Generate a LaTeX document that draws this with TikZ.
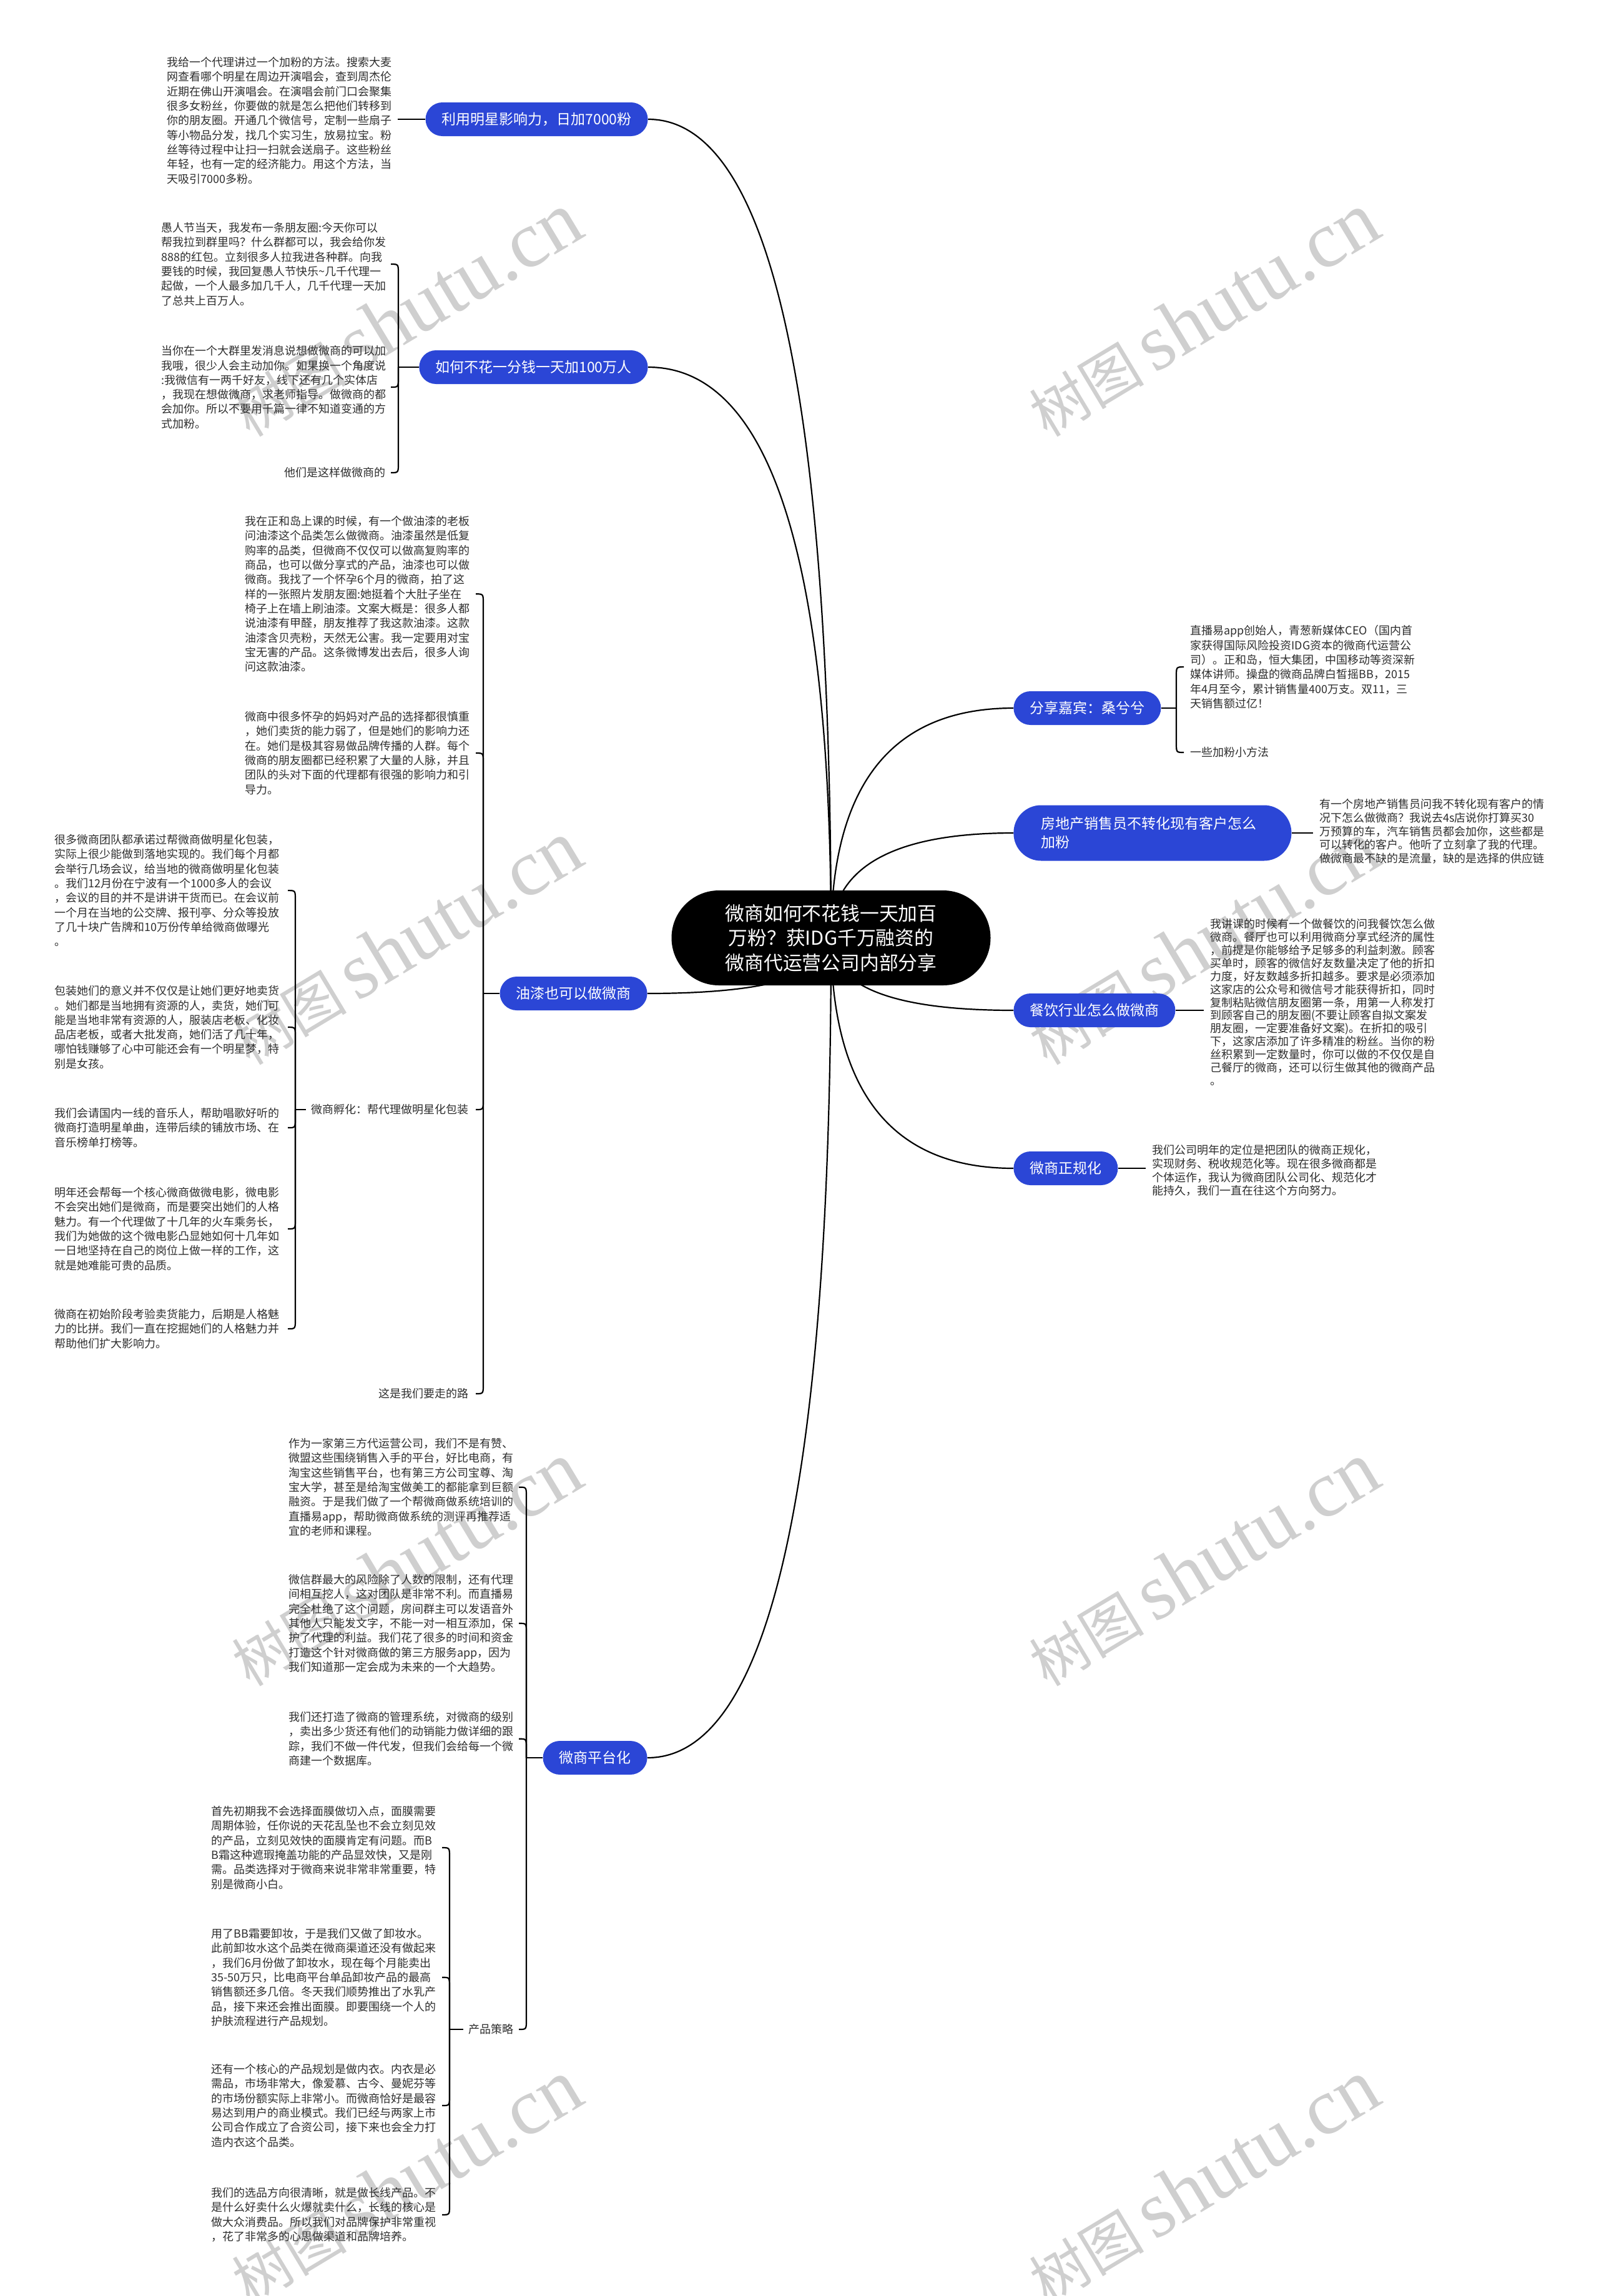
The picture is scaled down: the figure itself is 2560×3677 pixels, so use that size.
\documentclass[tikz,border=0pt]{standalone}
\usepackage{fontspec}
\setmainfont{Noto Sans CJK SC}
\newfontfamily\cjk{Noto Sans CJK SC}
\newfontfamily\wmserif{Liberation Serif}
\usetikzlibrary{calc,backgrounds}
\definecolor{bblue}{HTML}{2B46D6}
\definecolor{txtc}{HTML}{2E2E2E}
\definecolor{wmgray}{HTML}{CFCFCF}
\tikzset{
  conn/.style={draw=black, line width=1.1pt},
  root/.style={fill=black, text=white, font=\cjk\fontsize{15.4}{19.7}\selectfont, align=center, minimum width=255.5pt, minimum height=76pt, rounded corners=38pt, inner sep=0pt},
  bnode/.style={fill=bblue, text=white, font=\cjk\fontsize{11.5}{15}\selectfont, rounded corners=13.5pt, minimum height=27pt, inner xsep=13pt, inner ysep=3pt},
  tb/.style={font=\cjk\fontsize{9}{11.65}\selectfont, text=txtc, align=left, inner sep=0pt, anchor=north west},
  tbs/.style={tb, font=\cjk\fontsize{9}{10.85}\selectfont},
  tbi/.style={tb, font=\cjk\fontsize{9}{10.45}\selectfont},
  wm/.style={text=wmgray, rotate=31, inner sep=0pt},
}
\newcommand\mmconn[1]{%
  \path (#1) coordinate (mmA) (root.center |- #1) coordinate (mmC);
  \draw[conn] (root.center) .. controls ($(root.center)!2/3!(mmC)$) and ($(mmA)!2/3!(mmC)$) .. (mmA);}
\newcommand\lchild[3]{%
  \draw[conn] (#1) -- ($(#1 |- #2.east)+(0,#3)$) .. controls (#1 |- #2.east) .. ($(#1 |- #2.east)+(-12,0)$);}
\newcommand\rchild[3]{%
  \draw[conn] (#1) -- ($(#1 |- #2.west)+(0,#3)$) .. controls (#1 |- #2.west) .. ($(#1 |- #2.west)+(12,0)$);}
\begin{document}
\begin{tikzpicture}[x=0.5pt, y=-0.5pt]
\useasboundingbox (0,0) rectangle (2560,3677);

% root
\node[root] (root) at (1331,1502) {微商如何不花钱一天加百\\万粉？获IDG千万融资的\\微商代运营公司内部分享};

% main branches
\node[bnode, anchor=east] (n1) at (1038,191) {利用明星影响力，日加7000粉};
\node[bnode, anchor=east] (n2) at (1038,588) {如何不花一分钱一天加100万人};
\node[bnode, anchor=east] (n3) at (1037,1591) {油漆也可以做微商};
\node[bnode, anchor=east] (n4) at (1037,2815) {微商平台化};
\node[bnode, anchor=west] (n5) at (1623,1134) {分享嘉宾：桑兮兮};
\node[bnode, anchor=west, align=left, text width=178.5pt, inner xsep=22pt, rounded corners=22pt, minimum height=44.5pt] (n6) at (1623,1334) {房地产销售员不转化现有客户怎么\\加粉};
\node[bnode, anchor=west] (n7) at (1623,1618) {餐饮行业怎么做微商};
\node[bnode, anchor=west] (n8) at (1623,1871) {微商正规化};

% branch 1
\node[tb] (A) at (267,91) {我给一个代理讲过一个加粉的方法。搜索大麦\\网查看哪个明星在周边开演唱会，查到周杰伦\\近期在佛山开演唱会。在演唱会前门口会聚集\\很多女粉丝，你要做的就是怎么把他们转移到\\你的朋友圈。开通几个微信号，定制一些扇子\\等小物品分发，找几个实习生，放易拉宝。粉\\丝等待过程中让扫一扫就会送扇子。这些粉丝\\年轻，也有一定的经济能力。用这个方法，当\\天吸引7000多粉。};

% branch 2
\node[tb] (B1) at (258,356) {愚人节当天，我发布一条朋友圈:今天你可以\\帮我拉到群里吗？什么群都可以，我会给你发\\888的红包。立刻很多人拉我进各种群。向我\\要钱的时候，我回复愚人节快乐\textasciitilde 几千代理一\\起做，一个人最多加几千人，几千代理一天加\\了总共上百万人。};
\node[tb] (B2) at (258,553) {当你在一个大群里发消息说想做微商的可以加\\我哦，很少人会主动加你。如果换一个角度说\\:我微信有一两千好友，线下还有几个实体店\\，我现在想做微商，求老师指导。做微商的都\\会加你。所以不要用千篇一律不知道变通的方\\式加粉。};
\node[tb, anchor=east] (B3) at (618,757) {他们是这样做微商的};

% branch 3
\node[tb] (C1) at (392,826) {我在正和岛上课的时候，有一个做油漆的老板\\问油漆这个品类怎么做微商。油漆虽然是低复\\购率的品类，但微商不仅仅可以做高复购率的\\商品，也可以做分享式的产品，油漆也可以做\\微商。我找了一个怀孕6个月的微商，拍了这\\样的一张照片发朋友圈:她挺着个大肚子坐在\\椅子上在墙上刷油漆。文案大概是：很多人都\\说油漆有甲醛，朋友推荐了我这款油漆。这款\\油漆含贝壳粉，天然无公害。我一定要用对宝\\宝无害的产品。这条微博发出去后，很多人询\\问这款油漆。};
\node[tb] (C2) at (392,1139) {微商中很多怀孕的妈妈对产品的选择都很慎重\\，她们卖货的能力弱了，但是她们的影响力还\\在。她们是极其容易做品牌传播的人群。每个\\微商的朋友圈都已经积累了大量的人脉，并且\\团队的头对下面的代理都有很强的影响力和引\\导力。};
\node[tb, anchor=east] (C3) at (751,1777) {微商孵化：帮代理做明星化包装};
\node[tb, anchor=east] (C4) at (751,2232) {这是我们要走的路};
\node[tb] (D1) at (87,1336) {很多微商团队都承诺过帮微商做明星化包装，\\实际上很少能做到落地实现的。我们每个月都\\会举行几场会议，给当地的微商做明星化包装\\。我们12月份在宁波有一个1000多人的会议\\，会议的目的并不是讲讲干货而已。在会议前\\一个月在当地的公交牌、报刊亭、分众等投放\\了几十块广告牌和10万份传单给微商做曝光\\。};
\node[tb] (D2) at (87,1578) {包装她们的意义并不仅仅是让她们更好地卖货\\。她们都是当地拥有资源的人，卖货，她们可\\能是当地非常有资源的人，服装店老板、化妆\\品店老板，或者大批发商，她们活了几十年，\\哪怕钱赚够了心中可能还会有一个明星梦，特\\别是女孩。};
\node[tb] (D3) at (87,1774) {我们会请国内一线的音乐人，帮助唱歌好听的\\微商打造明星单曲，连带后续的铺放市场、在\\音乐榜单打榜等。};
\node[tb] (D4) at (87,1901) {明年还会帮每一个核心微商做微电影，微电影\\不会突出她们是微商，而是要突出她们的人格\\魅力。有一个代理做了十几年的火车乘务长，\\我们为她做的这个微电影凸显她如何十几年如\\一日地坚持在自己的岗位上做一样的工作，这\\就是她难能可贵的品质。};
\node[tb] (D5) at (87,2096) {微商在初始阶段考验卖货能力，后期是人格魅\\力的比拼。我们一直在挖掘她们的人格魅力并\\帮助他们扩大影响力。};

% branch 4
\node[tb] (E1) at (462,2303) {作为一家第三方代运营公司，我们不是有赞、\\微盟这些围绕销售入手的平台，好比电商，有\\淘宝这些销售平台，也有第三方公司宝尊、淘\\宝大学，甚至是给淘宝做美工的都能拿到巨额\\融资。于是我们做了一个帮微商做系统培训的\\直播易app，帮助微商做系统的测评再推荐适\\宜的老师和课程。};
\node[tb] (E2) at (462,2521) {微信群最大的风险除了人数的限制，还有代理\\间相互挖人，这对团队是非常不利。而直播易\\完全杜绝了这个问题，房间群主可以发语音外\\其他人只能发文字，不能一对一相互添加，保\\护了代理的利益。我们花了很多的时间和资金\\打造这个针对微商做的第三方服务app，因为\\我们知道那一定会成为未来的一个大趋势。};
\node[tb] (E3) at (462,2741) {我们还打造了微商的管理系统，对微商的级别\\，卖出多少货还有他们的动销能力做详细的跟\\踪，我们不做一件代发，但我们会给每一个微\\商建一个数据库。};
\node[tb, anchor=east] (E4) at (823,3250) {产品策略};
\node[tb] (F1) at (338,2892) {首先初期我不会选择面膜做切入点，面膜需要\\周期体验，任你说的天花乱坠也不会立刻见效\\的产品，立刻见效快的面膜肯定有问题。而B\\B霜这种遮瑕掩盖功能的产品显效快，又是刚\\需。品类选择对于微商来说非常非常重要，特\\别是微商小白。};
\node[tb] (F2) at (338,3088) {用了BB霜要卸妆，于是我们又做了卸妆水。\\此前卸妆水这个品类在微商渠道还没有做起来\\，我们6月份做了卸妆水，现在每个月能卖出\\35-50万只，比电商平台单品卸妆产品的最高\\销售额还多几倍。冬天我们顺势推出了水乳产\\品，接下来还会推出面膜。即要围绕一个人的\\护肤流程进行产品规划。};
\node[tb] (F3) at (338,3305) {还有一个核心的产品规划是做内衣。内衣是必\\需品，市场非常大，像爱慕、古今、曼妮芬等\\的市场份额实际上非常小。而微商恰好是最容\\易达到用户的商业模式。我们已经与两家上市\\公司合作成立了合资公司，接下来也会全力打\\造内衣这个品类。};
\node[tb] (F4) at (338,3503) {我们的选品方向很清晰，就是做长线产品。不\\是什么好卖什么火爆就卖什么，长线的核心是\\做大众消费品。所以我们对品牌保护非常重视\\，花了非常多的心思做渠道和品牌培养。};

% branch 5
\node[tb] (G1) at (1906,1001) {直播易app创始人，青葱新媒体CEO（国内首\\家获得国际风险投资IDG资本的微商代运营公\\司）。正和岛，恒大集团，中国移动等资深新\\媒体讲师。操盘的微商品牌白皙摇BB，2015\\年4月至今，累计销售量400万支。双11，三\\天销售额过亿！};
\node[tb, anchor=west] (G2) at (1906,1205) {一些加粉小方法};

% branch 6
\node[tbs] (H) at (2113,1279) {有一个房地产销售员问我不转化现有客户的情\\况下怎么做微商？我说去4s店说你打算买30\\万预算的车，汽车销售员都会加你，这些都是\\可以转化的客户。他听了立刻拿了我的代理。\\做微商最不缺的是流量，缺的是选择的供应链};

% branch 7
\node[tbi] (I) at (1938,1471) {我讲课的时候有一个做餐饮的问我餐饮怎么做\\微商。餐厅也可以利用微商分享式经济的属性\\，前提是你能够给予足够多的利益刺激。顾客\\买单时，顾客的微信好友数量决定了他的折扣\\力度，好友数越多折扣越多。要求是必须添加\\这家店的公众号和微信号才能获得折扣，同时\\复制粘贴微信朋友圈第一条，用第一人称发打\\到顾客自己的朋友圈(不要让顾客自拟文案发\\朋友圈，一定要准备好文案)。在折扣的吸引\\下，这家店添加了许多精准的粉丝。当你的粉\\丝积累到一定数量时，你可以做的不仅仅是自\\己餐厅的微商，还可以衍生做其他的微商产品\\。};

% branch 8
\node[tbs] (J) at (1845,1833) {我们公司明年的定位是把团队的微商正规化，\\实现财务、税收规范化等。现在很多微商都是\\个体运作，我认为微商团队公司化、规范化才\\能持久，我们一直在往这个方向努力。};

\begin{scope}[on background layer]
  \fill[white] (0,0) rectangle (2560,3677);
  \foreach \wx/\wy [count=\i] in {650/504, 1927/504, 650/1510, 1927/1510, 650/2505, 1927/2505, 650/3494, 1927/3494}
    \node[wm] (wm\i) at (\wx,\wy) {{\cjk\fontsize{46}{46}\selectfont 树图}\hspace{8pt}{\wmserif\fontsize{64}{64}\selectfont shutu.cn}};

  % root connectors
  \mmconn{n1.east}
  \mmconn{n2.east}
  \mmconn{n3.east}
  \mmconn{n4.east}
  \mmconn{n5.west}
  \mmconn{n6.west}
  \mmconn{n7.west}
  \mmconn{n8.west}

  % branch 1
  \draw[conn] (n1.west) -- ($(n1.west -| A.east)+(9,0)$);

  % branch 2 bracket
  \coordinate (xB) at (638,0);
  \coordinate (jB) at (n2.west -| xB);
  \draw[conn] (n2.west) -- (jB);
  \lchild{jB}{B1}{15}
  \lchild{jB}{B2}{-15}
  \lchild{jB}{B3}{-15}

  % branch 3 bracket
  \coordinate (xC) at (774,0);
  \coordinate (jC) at (n3.west -| xC);
  \draw[conn] (n3.west) -- (jC);
  \lchild{jC}{C1}{15}
  \lchild{jC}{C2}{15}
  \lchild{jC}{C3}{-15}
  \lchild{jC}{C4}{-15}
  \coordinate (xD) at (473,0);
  \coordinate (jD) at (C3.west -| xD);
  \draw[conn] ($(C3.west)+(-8,0)$) -- (jD);
  \lchild{jD}{D1}{15}
  \lchild{jD}{D2}{15}
  \lchild{jD}{D3}{-15}
  \lchild{jD}{D4}{-15}
  \lchild{jD}{D5}{-15}

  % branch 4 bracket
  \coordinate (xE) at (843,0);
  \coordinate (jE) at (n4.west -| xE);
  \draw[conn] (n4.west) -- (jE);
  \lchild{jE}{E1}{15}
  \lchild{jE}{E2}{15}
  \lchild{jE}{E3}{15}
  \lchild{jE}{E4}{-15}
  \coordinate (xF) at (720,0);
  \coordinate (jF) at (E4.west -| xF);
  \draw[conn] ($(E4.west)+(-8,0)$) -- (jF);
  \lchild{jF}{F1}{15}
  \lchild{jF}{F2}{15}
  \lchild{jF}{F3}{-15}
  \lchild{jF}{F4}{-15}

  % branch 5 bracket
  \coordinate (xG) at (1884,0);
  \coordinate (jG) at (n5.east -| xG);
  \draw[conn] (n5.east) -- (jG);
  \rchild{jG}{G1}{15}
  \rchild{jG}{G2}{-15}

  % branches 6-8
  \draw[conn] (n6.east) -- ($(n6.east -| H.west)+(-10,0)$);
  \draw[conn] (n7.east) -- ($(n7.east -| I.west)+(-10,0)$);
  \draw[conn] (n8.east) -- ($(n8.east -| J.west)+(-10,0)$);
\end{scope}
\end{tikzpicture}
\end{document}
